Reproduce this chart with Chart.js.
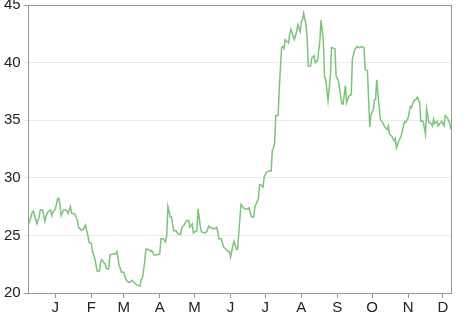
<!DOCTYPE html>
<html>
<head>
<meta charset="utf-8">
<script src="https://cdn.jsdelivr.net/npm/chart.js@4"></script>
<style>
    html, body { margin: 0; padding: 0; background: #fff; }
    #wrap { width: 466px; height: 317px; }
</style>
</head>
<body>
<div id="wrap"><canvas id="line-chart"></canvas></div>
<script>
// Day offsets from Jan 1 and closing values
const days = [-23,-21,-20,-19,-17,-16,-14,-13,-11,-10,-9,-8,-6,-4,-3,-2,0,2,3,4,5,7,9,10,11,13,14,16,17,19,
    20,22,23,24,26,27,28,29,31,32,34,36,38,39,40,42,43,44,46,47,50,52,53,55,57,59,60,62,64,66,
    67,69,70,73,74,75,77,78,80,82,83,85,87,90,91,93,95,96,97,99,100,102,104,106,108,109,111,113,115,116,
    118,119,120,122,123,125,126,129,131,132,135,138,139,140,141,143,145,147,149,150,151,153,154,156,157,159,160,163,166,167,
    169,171,172,175,176,177,179,180,182,184,186,187,188,189,190,192,193,195,196,197,198,199,201,202,203,205,206,208,209,211,
    212,213,214,216,217,218,220,221,223,224,226,228,229,231,232,233,235,237,238,241,242,244,245,247,248,250,251,253,255,256,
    258,260,262,264,266,267,269,270,271,272,274,275,276,277,279,280,282,284,286,287,288,290,292,293,294,296,298,300,301,302,
    304,306,307,309,311,312,314,315,317,319,320,322,323,325,326,327,329,330,332,333,335,336,338,340,341];
const prices = [26.0,26.6,27.0,27.1,26.4,26.0,26.6,27.2,27.2,26.7,26.2,26.7,27.1,27.2,26.7,27.0,27.3,28.2,28.2,27.6,26.7,27.2,27.2,27.1,26.9,27.5,26.9,26.9,26.8,26.3,
    25.7,25.5,25.5,25.5,25.9,25.4,25.0,24.4,24.3,23.6,23.0,21.9,21.9,22.7,22.9,22.6,22.5,22.1,22.1,23.3,23.4,23.4,23.6,22.4,21.8,21.8,21.4,21.0,20.9,21.1,
    21.0,20.8,20.7,20.6,21.2,21.3,22.7,23.8,23.8,23.6,23.7,23.3,23.3,23.4,24.7,24.7,24.4,25.0,27.5,26.6,26.6,25.4,25.4,25.1,25.1,25.7,25.9,26.3,26.3,25.7,
    26.0,25.2,25.3,25.4,27.3,25.7,25.3,25.2,25.4,25.8,25.6,25.6,25.7,25.3,24.7,24.7,24.0,23.8,23.6,23.6,23.1,24.1,24.5,23.8,23.8,26.4,27.7,27.3,27.3,27.4,
    26.6,26.6,27.5,28.2,29.4,29.4,29.2,30.1,30.5,30.6,30.6,32.4,32.6,33.0,35.4,35.4,37.8,41.3,41.4,41.2,42.0,41.9,41.7,42.5,42.9,42.3,42.0,42.7,43.3,42.7,
    43.6,43.7,44.3,43.3,42.2,39.7,39.7,40.4,40.6,40.0,40.2,41.9,43.7,41.9,38.7,38.6,36.7,38.8,41.3,41.2,38.8,38.4,37.7,36.4,36.4,38.0,36.5,37.1,37.2,40.3,
    41.1,41.4,41.3,41.4,41.3,39.4,39.3,36.8,34.4,35.5,35.9,36.8,36.8,38.5,36.2,35.1,34.8,34.4,34.2,34.5,33.8,33.6,33.2,33.4,32.6,33.2,33.6,34.5,34.9,34.8,
    35.2,36.2,36.1,36.7,36.8,37.0,36.5,34.9,34.9,33.8,36.0,34.8,34.8,34.5,35.1,34.7,34.9,34.5,34.8,34.9,34.5,35.4,35.2,34.7,34.2];

// Month starts (day of year) and their one-letter labels
const monthDays = [0, 31, 59, 90, 120, 151, 181, 212, 243, 273, 304, 334];
const monthLabels = ['J', 'F', 'M', 'A', 'M', 'J', 'J', 'A', 'S', 'O', 'N', 'D'];
const yTicks = [20, 25, 30, 35, 40, 45];

const axisColor = '#9a9a9a';
const gridColor = '#ebebeb';
const fontFamily = '"Liberation Sans", Arial, Helvetica, sans-serif';

// Draws the right edge of the box round the plot
const boxPlugin = {
    id: 'boxRight',
    afterDraw(chart) {
        const ctx = chart.ctx;
        const a = chart.chartArea;
        ctx.save();
        ctx.strokeStyle = axisColor;
        ctx.lineWidth = 1;
        ctx.beginPath();
        ctx.moveTo(Math.round(a.right) + 0.5, a.top);
        ctx.lineTo(Math.round(a.right) + 0.5, a.bottom);
        ctx.stroke();
        ctx.restore();
    }
};

const ctx = document.getElementById('line-chart').getContext('2d');
new Chart(ctx, {
    type: 'line',
    data: {
        datasets: [{
            data: days.map((d, i) => ({ x: d, y: prices[i] })),
            borderColor: '#7cc47a',
            borderWidth: 1.5,
            pointRadius: 0,
            tension: 0,
            fill: false
        }]
    },
    options: {
        responsive: true,
        maintainAspectRatio: false,
        animation: false,
        layout: { padding: { top: 5, right: 15, left: 1, bottom: 0 } },
        plugins: {
            legend: { display: false },
            tooltip: { enabled: false }
        },
        scales: {
            x: {
                type: 'linear',
                min: -23,
                max: 341,
                afterBuildTicks: (scale) => {
                    scale.ticks = monthDays.map(v => ({ value: v }));
                },
                ticks: {
                    color: '#222',
                    font: { family: fontFamily, size: 15, lineHeight: 1 },
                    padding: 2,
                    maxRotation: 0,
                    autoSkip: false,
                    callback: (value) => monthLabels[monthDays.indexOf(value)]
                },
                grid: {
                    drawOnChartArea: false,
                    drawTicks: true,
                    tickLength: 5,
                    color: axisColor
                },
                border: { color: axisColor }
            },
            y: {
                min: 20,
                max: 45,
                afterBuildTicks: (scale) => {
                    scale.ticks = yTicks.map(v => ({ value: v }));
                },
                afterFit: (scale) => {
                    scale.paddingTop = 0;
                    scale.paddingBottom = 0;
                },
                ticks: {
                    color: '#222',
                    font: { family: fontFamily, size: 15 },
                    padding: 3
                },
                grid: {
                    tickLength: 5,
                    color: (c) => (c.tick && (c.tick.value === 45 || c.tick.value === 20)) ? axisColor : gridColor
                },
                border: { color: axisColor }
            }
        }
    },
    plugins: [boxPlugin]
});
</script>
</body>
</html>
